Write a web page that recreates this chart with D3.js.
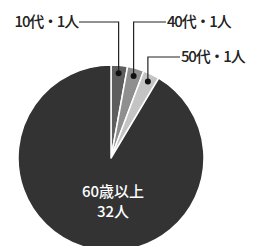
<!DOCTYPE html>
<html><head><meta charset="utf-8">
<script src="https://cdn.jsdelivr.net/npm/d3@7"></script>
<style>body{margin:0;background:#fff}svg{display:block}</style>
</head><body>
<svg id="c" width="258" height="246"></svg>
<script>
const categories = ["10代", "40代", "50代", "60歳以上"];
const values = [1, 1, 1, 32];
const colors = ["#5e5e5e", "#8f8f8f", "#c4c4c4", "#333333"];
const labels = ["10代・1人", "40代・1人", "50代・1人"];

const svg = d3.select("#c");
const cx = 111, cy = 158, r = 93;
const g = svg.append("g").attr("transform", `translate(${cx},${cy})`);
const pie = d3.pie().sort(null).value(d => d)(values);
const arc = d3.arc().innerRadius(0).outerRadius(r);
g.selectAll("path").data(pie).enter().append("path")
  .attr("d", arc).attr("fill", (d, i) => colors[i])
  .attr("stroke", "#fff").attr("stroke-width", 1.5).attr("stroke-linejoin", "round");

const font = "'Noto Sans CJK JP', sans-serif";
const layout = [
  {ly: 22, tx: 78, anchor: "end", ty: 27},
  {ly: 22, tx: 167, anchor: "start", ty: 27},
  {ly: 57, tx: 181, anchor: "start", ty: 62}
];
pie.slice(0, 3).forEach((d, i) => {
  const a = (d.startAngle + d.endAngle) / 2;
  const px = cx + 85 * Math.sin(a), py = cy - 85 * Math.cos(a);
  const L = layout[i];
  svg.append("polyline")
    .attr("points", `${px},${py} ${px},${L.ly} ${L.tx + (L.anchor === "end" ? 1 : -1)},${L.ly}`)
    .attr("fill", "none").attr("stroke", "#222").attr("stroke-width", 1.2);
  svg.append("circle").attr("cx", px).attr("cy", py).attr("r", 3).attr("fill", "#111");
  svg.append("text").attr("x", L.tx).attr("y", L.ty).attr("text-anchor", L.anchor)
    .attr("font-family", font).attr("font-size", 15).attr("font-weight", 500)
    .attr("letter-spacing", -1.2)
    .attr("fill", "#222").text(labels[i]);
});

svg.append("text").attr("x", 113).attr("y", 197).attr("text-anchor", "middle")
  .attr("font-family", font).attr("font-size", 15).attr("font-weight", 500).attr("fill", "#fff").text(categories[3]);
svg.append("text").attr("x", 113).attr("y", 217).attr("text-anchor", "middle")
  .attr("font-family", font).attr("font-size", 15).attr("font-weight", 500).attr("fill", "#fff").text(values[3] + "人");
</script>
</body></html>
